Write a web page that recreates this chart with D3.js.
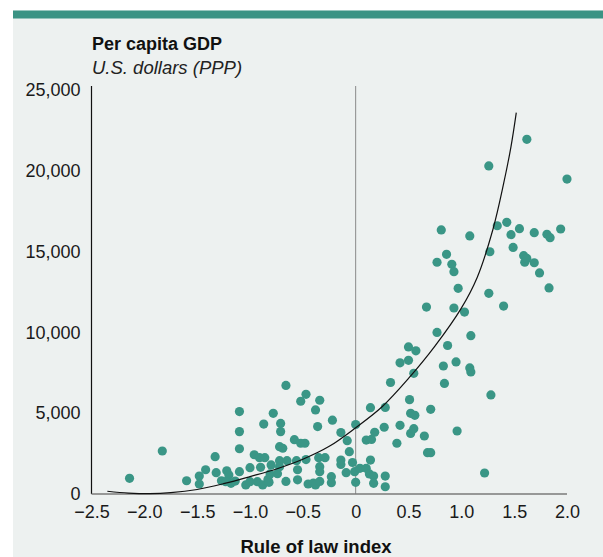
<!DOCTYPE html>
<html><head><meta charset="utf-8">
<script src="https://cdn.jsdelivr.net/npm/d3@7"></script>
<style>
html,body{margin:0;padding:0;background:#fff;}
svg{display:block;font-family:"Liberation Sans",Arial,Helvetica,sans-serif;}
</style></head>
<body>
<script>
// ---- data ----
const xTicks = [-2.5, -2.0, -1.5, -1.0, -0.5, 0, 0.5, 1.0, 1.5, 2.0];
const xTickLabels = ["\u22122.5","\u22122.0","\u22121.5","\u22121.0","\u22120.5","0","0.5","1.0","1.5","2.0"];
const yTicks = [0, 5000, 10000, 15000, 20000, 25000];
const yTickLabels = ["0","5,000","10,000","15,000","20,000","25,000"];

// rule of law index (x) and per capita GDP (y)
const ruleOfLaw = [
 -2.14,-1.83,-1.60,-1.48,-1.48,-1.42,-1.33,-1.32,-1.27,-1.22,-1.20,-1.18,-1.23,-1.14,-1.10,-1.10,-1.10,-1.10,-1.04,
 -1.00,-1.00,-0.96,-0.93,-0.90,-0.91,-0.88,-0.86,-0.87,-0.83,-0.82,-0.80,-0.81,-0.74,-0.78,-0.72,-0.72,-0.71,-0.71,
 -0.72,-0.69,-0.66,-0.66,-0.65,-0.58,-0.56,-0.55,-0.55,-0.52,-0.52,-0.48,-0.47,-0.47,-0.45,-0.40,-0.38,-0.38,-0.36,
 -0.34,-0.35,-0.34,-0.34,-0.34,-0.29,-0.23,-0.23,-0.22,-0.14,-0.14,-0.14,-0.09,-0.08,-0.06,-0.03,-0.01,0.00,0.00,
 0.04,0.10,0.10,0.13,0.14,0.14,0.15,0.17,0.17,0.18,0.27,0.28,0.28,0.28,0.33,0.39,0.42,0.42,0.50,0.50,0.51,0.52,
 0.52,0.55,0.55,0.56,0.57,0.65,0.67,0.68,0.71,0.71,0.77,0.77,0.81,0.83,0.84,0.86,0.87,0.91,0.93,0.93,0.95,0.96,
 0.97,1.03,1.08,1.08,1.09,1.09,1.22,1.26,1.26,1.27,1.28,1.34,1.40,1.43,1.47,1.49,1.55,1.59,1.60,1.62,1.62,1.69,
 1.69,1.74,1.81,1.84,1.83,1.94,2.00
];
const gdp = [
 970,2660,820,1110,620,1500,2310,1320,820,1440,1180,660,760,800,1380,2800,3860,5100,560,
 1630,760,2430,760,1650,2250,560,2250,4330,900,720,1800,1240,1260,4990,2060,1690,4370,3860,
 2930,2830,6720,780,2060,3360,2060,1500,880,5740,3140,3140,6170,2130,620,680,560,5200,4170,
 5800,2250,1690,1380,780,2250,1070,700,4570,2100,1830,3800,1320,3300,2620,1950,1380,4300,720,
 1590,1590,3340,1240,2100,5340,3380,1110,660,3820,4130,5360,1110,450,6900,3140,8120,4250,9100,8270,5840,4990,
 3750,7470,4040,4870,8860,3590,11570,2560,2560,5240,10000,14340,16340,7920,6840,14830,9190,14210,13760,11510,8170,3900,
 12730,11260,15970,7800,9800,7550,1300,20300,12420,14990,6130,16600,11630,16810,16050,15260,16420,14750,14340,14580,21950,16170,
 14310,13680,16070,15860,12750,16400,19490
];

// fitted curve, points
const fitX = [-2.35,-2.15,-1.95,-1.75,-1.5,-1.25,-1.0,-0.75,-0.5,-0.25,0,0.25,0.5,0.75,1.0,1.15,1.3,1.4,1.47,1.52];
const fitY = [170,60,20,80,280,640,1080,1550,2150,2950,4100,5400,7150,9150,11500,13400,16400,19200,21500,23600];

// ---- drawing ----
const W = 603, H = 557;
const svg = d3.select("body").append("svg").attr("width", W).attr("height", H);

svg.append("rect").attr("x", 13).attr("y", 0).attr("width", W - 13).attr("height", H).attr("fill", "#edf1f0");
svg.append("rect").attr("x", 13).attr("y", 0).attr("width", W - 13).attr("height", 10.5).attr("fill", "#fff");
svg.append("rect").attr("x", 13).attr("y", 10.5).attr("width", W - 13).attr("height", 8).attr("fill", "#3b9384");

const x = d3.scaleLinear().domain([-2.5, 2.0]).range([91.5, 567]);
const y = d3.scaleLinear().domain([0, 25000]).range([494, 90]);

// titles
svg.append("text").attr("x", 92).attr("y", 50).attr("font-size", 18).attr("font-weight", "bold")
  .attr("fill", "#111").text("Per capita GDP");
svg.append("text").attr("x", 92).attr("y", 74).attr("font-size", 18.5).attr("font-style", "italic")
  .attr("fill", "#222").text("U.S. dollars (PPP)");

// zero line
svg.append("line").attr("x1", x(0)).attr("x2", x(0)).attr("y1", 86).attr("y2", 494)
  .attr("stroke", "#8a8a8a").attr("stroke-width", 1);

// y axis
const yAxis = d3.axisLeft(y).tickValues(yTicks).tickSize(0).tickPadding(11)
  .tickFormat((d, i) => yTickLabels[i]);
const gy = svg.append("g").attr("transform", `translate(${x(-2.5)},0)`).call(yAxis);
gy.select(".domain").remove();
gy.selectAll("text").attr("font-size", 18).attr("fill", "#1a1a1a").attr("font-family", "Liberation Sans, Arial, sans-serif");
svg.append("line").attr("x1", x(-2.5)).attr("x2", x(-2.5)).attr("y1", 86).attr("y2", 494)
  .attr("stroke", "#111").attr("stroke-width", 1.2);

// x axis
const xAxis = d3.axisBottom(x).tickValues(xTicks).tickSize(0).tickPadding(11)
  .tickFormat((d, i) => xTickLabels[i]);
const gx = svg.append("g").attr("transform", `translate(0,${y(0)})`).call(xAxis);
gx.select(".domain").remove();
gx.selectAll("text").attr("font-size", 18).attr("fill", "#1a1a1a").attr("font-family", "Liberation Sans, Arial, sans-serif");
svg.append("line").attr("x1", x(-2.5)).attr("x2", x(2.0)).attr("y1", y(0)).attr("y2", y(0))
  .attr("stroke", "#7a7a7a").attr("stroke-width", 1.6);

svg.append("text").attr("x", 316).attr("y", 553).attr("text-anchor", "middle")
  .attr("font-size", 18.5).attr("font-weight", "bold").attr("fill", "#111").text("Rule of law index");

// dots
const pts = ruleOfLaw.map((v, i) => ({x: v, y: gdp[i]}));
svg.append("g").selectAll("circle").data(pts).join("circle")
  .attr("cx", d => x(d.x)).attr("cy", d => y(d.y)).attr("r", 4.6)
  .attr("fill", "#3a9686");

// fitted curve
const fit = fitX.map((v, i) => [v, fitY[i]]);
svg.append("path").datum(fit)
  .attr("d", d3.line().x(d => x(d[0])).y(d => y(d[1])).curve(d3.curveCatmullRom))
  .attr("fill", "none").attr("stroke", "#111").attr("stroke-width", 1.2);
</script>
</body></html>
